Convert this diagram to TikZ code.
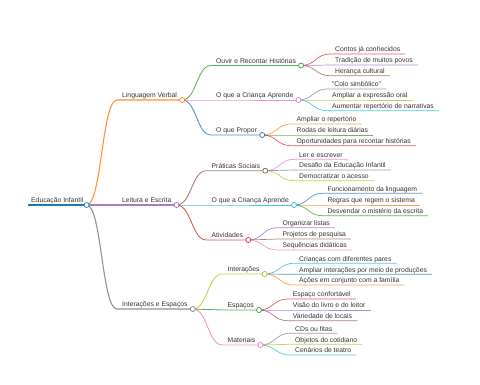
\documentclass[tikz,border=0pt]{standalone}
\usepackage{fontspec}
\setmainfont{Liberation Sans}
\usepackage{xcolor}
\usetikzlibrary{calc}
\definecolor{cBlue}{HTML}{1F77B4}
\definecolor{cOrange}{HTML}{FF7F0E}
\definecolor{cGreen}{HTML}{2CA02C}
\definecolor{cRed}{HTML}{D62728}
\definecolor{cPurple}{HTML}{9467BD}
\definecolor{cBrown}{HTML}{8C564B}
\definecolor{cPink}{HTML}{E377C2}
\definecolor{cGrey}{HTML}{7F7F7F}
\definecolor{cOlive}{HTML}{BCBD22}
\definecolor{cCyan}{HTML}{17BECF}
\definecolor{ink}{HTML}{333333}

\begin{document}
\begin{tikzpicture}[x=1pt, y=-1pt,
    lbl/.style={anchor=south west, inner xsep=5pt, inner ysep=0.6pt, text height=5pt, text depth=1.5pt,
        text=ink, font=\fontsize{6.8}{8}\selectfont},
    knob/.style={circle, draw=#1, fill=white, line width=0.7pt, inner sep=0pt, minimum size=5pt},
    link/.style={to path={let \p1=(\tikztostart), \p2=(\tikztotarget) in
        .. controls ({(\x1+\x2)/2},\y1) and ({(\x1+\x2)/2},\y2) .. (\tikztotarget)}},
    d1/.style={line width=1.1pt, opacity=0.85}, d2/.style={line width=0.85pt, opacity=0.8},
    d3/.style={line width=0.7pt, opacity=0.75}]
                \useasboundingbox (0,0) rectangle (480,384);
                \node[lbl, inner xsep=3pt] (root) at (28,205) {Educação Infantil};
                \node[lbl] (lv) at (117,100) {Linguagem Verbal};
                \node[lbl] (le) at (117,205) {Leitura e Escrita};
                \node[lbl] (ie) at (117,309) {Interações e Espaços};
                \node[lbl] (ouvir) at (211,65.5) {Ouvir e Recontar Histórias};
                \node[lbl] (aprende) at (211,100) {O que a Criança Aprende};
                \node[lbl] (propor) at (211,135) {O que Propor};
                \node[lbl] (praticas) at (206.5,170.7) {Práticas Sociais};
                \node[lbl] (aprendeb) at (206.5,205) {O que a Criança Aprende};
                \node[lbl] (ativ) at (206.5,240) {Atividades};
                \node[lbl] (inter) at (222.5,274) {Interações};
                \node[lbl] (espacos) at (222.5,310) {Espaços};
                \node[lbl] (mater) at (222.5,345) {Materiais};
                \node[lbl] (contos) at (330,54) {Contos já conhecidos};
                \node[lbl] (tradicao) at (330,65) {Tradição de muitos povos};
                \node[lbl] (heranca) at (330,75.7) {Herança cultural};
                \node[lbl] (colo) at (327,89) {"Colo simbólico"};
                \node[lbl] (oral) at (327,100) {Ampliar a expressão oral};
                \node[lbl] (narrat) at (327,110.7) {Aumentar repertório de narrativas};
                \node[lbl] (repert) at (291.5,124) {Ampliar o repertório};
                \node[lbl] (rodas) at (291.5,135) {Rodas de leitura diárias};
                \node[lbl] (oport) at (291.5,145.7) {Oportunidades para recontar histórias};
                \node[lbl] (ler) at (294,159.3) {Ler e escrever};
                \node[lbl] (desafio) at (294,170) {Desafio da Educação Infantil};
                \node[lbl] (democ) at (294,180.7) {Democratizar o acesso};
                \node[lbl] (funcion) at (322.3,193.3) {Funcionamento da linguagem};
                \node[lbl] (regras) at (322.3,205) {Regras que regem o sistema};
                \node[lbl] (misterio) at (322.3,215.7) {Desvendar o mistério da escrita};
                \node[lbl] (listas) at (277.3,227.7) {Organizar listas};
                \node[lbl] (pesquisa) at (277.3,239) {Projetos de pesquisa};
                \node[lbl] (sequen) at (277.3,250) {Sequências didáticas};
                \node[lbl] (pares) at (294,263.3) {Crianças com diferentes pares};
                \node[lbl] (producoes) at (294,274.3) {Ampliar interações por meio de produções};
                \node[lbl] (familia) at (294,285) {Ações em conjunto com a família};
                \node[lbl] (conforto) at (287.7,299) {Espaço confortável};
                \node[lbl] (visao) at (287.7,310) {Visão do livro e do leitor};
                \node[lbl] (locais) at (287.7,320.7) {Variedade de locais};
                \node[lbl] (cds) at (290,333.3) {CDs ou fitas};
                \node[lbl] (objetos) at (290,344.3) {Objetos do cotidiano};
                \node[lbl] (cenarios) at (290,355) {Cenários de teatro};
                \draw[cBlue, line width=1.5pt] (root.south west) -- (root.south east);
                \draw[cOrange, d1] (root.south east) to[link] (lv.south west) -- (lv.south east);
                \draw[cPurple, d1] (root.south east) to[link] (le.south west) -- (le.south east);
                \draw[cGrey, d1] (root.south east) to[link] (ie.south west) -- (ie.south east);
                \draw[cGreen, d2] (lv.south east) to[link] (ouvir.south west) -- (ouvir.south east);
                \draw[cPink, d2] (lv.south east) to[link] (aprende.south west) -- (aprende.south east);
                \draw[cBlue, d2] (lv.south east) to[link] (propor.south west) -- (propor.south east);
                \draw[cBrown, d2] (le.south east) to[link] (praticas.south west) -- (praticas.south east);
                \draw[cCyan, d2] (le.south east) to[link] (aprendeb.south west) -- (aprendeb.south east);
                \draw[cRed, d2] (le.south east) to[link] (ativ.south west) -- (ativ.south east);
                \draw[cOlive, d2] (ie.south east) to[link] (inter.south west) -- (inter.south east);
                \draw[cGreen, d2] (ie.south east) to[link] (espacos.south west) -- (espacos.south east);
                \draw[cPink, d2] (ie.south east) to[link] (mater.south west) -- (mater.south east);
                \draw[cRed, d3] (ouvir.south east) to[link] (contos.south west) -- (contos.south east);
                \draw[cPurple, d3] (ouvir.south east) to[link] (tradicao.south west) -- (tradicao.south east);
                \draw[cBrown, d3] (ouvir.south east) to[link] (heranca.south west) -- (heranca.south east);
                \draw[cGrey, d3] (aprende.south east) to[link] (colo.south west) -- (colo.south east);
                \draw[cOlive, d3] (aprende.south east) to[link] (oral.south west) -- (oral.south east);
                \draw[cCyan, d3] (aprende.south east) to[link] (narrat.south west) -- (narrat.south east);
                \draw[cOrange, d3] (propor.south east) to[link] (repert.south west) -- (repert.south east);
                \draw[cGreen, d3] (propor.south east) to[link] (rodas.south west) -- (rodas.south east);
                \draw[cRed, d3] (propor.south east) to[link] (oport.south west) -- (oport.south east);
                \draw[cPink, d3] (praticas.south east) to[link] (ler.south west) -- (ler.south east);
                \draw[cGrey, d3] (praticas.south east) to[link] (desafio.south west) -- (desafio.south east);
                \draw[cOlive, d3] (praticas.south east) to[link] (democ.south west) -- (democ.south east);
                \draw[cBlue, d3] (aprendeb.south east) to[link] (funcion.south west) -- (funcion.south east);
                \draw[cOrange, d3] (aprendeb.south east) to[link] (regras.south west) -- (regras.south east);
                \draw[cGreen, d3] (aprendeb.south east) to[link] (misterio.south west) -- (misterio.south east);
                \draw[cPurple, d3] (ativ.south east) to[link] (listas.south west) -- (listas.south east);
                \draw[cBrown, d3] (ativ.south east) to[link] (pesquisa.south west) -- (pesquisa.south east);
                \draw[cPink, d3] (ativ.south east) to[link] (sequen.south west) -- (sequen.south east);
                \draw[cCyan, d3] (inter.south east) to[link] (pares.south west) -- (pares.south east);
                \draw[cBlue, d3] (inter.south east) to[link] (producoes.south west) -- (producoes.south east);
                \draw[cOrange, d3] (inter.south east) to[link] (familia.south west) -- (familia.south east);
                \draw[cRed, d3] (espacos.south east) to[link] (conforto.south west) -- (conforto.south east);
                \draw[cPurple, d3] (espacos.south east) to[link] (visao.south west) -- (visao.south east);
                \draw[cBrown, d3] (espacos.south east) to[link] (locais.south west) -- (locais.south east);
                \draw[cGrey, d3] (mater.south east) to[link] (cds.south west) -- (cds.south east);
                \draw[cOlive, d3] (mater.south east) to[link] (objetos.south west) -- (objetos.south east);
                \draw[cCyan, d3] (mater.south east) to[link] (cenarios.south west) -- (cenarios.south east);
                \node[knob=cBlue] (rootk) at (root.south east) {};
                \node[knob=cOrange] (lvk) at (lv.south east) {};
                \node[knob=cPurple] (lek) at (le.south east) {};
                \node[knob=cGrey] (iek) at (ie.south east) {};
                \node[knob=cGreen] (ouvirk) at (ouvir.south east) {};
                \node[knob=cPink] (aprendek) at (aprende.south east) {};
                \node[knob=cBlue] (propork) at (propor.south east) {};
                \node[knob=cBrown] (praticask) at (praticas.south east) {};
                \node[knob=cCyan] (aprendebk) at (aprendeb.south east) {};
                \node[knob=cRed] (ativk) at (ativ.south east) {};
                \node[knob=cOlive] (interk) at (inter.south east) {};
                \node[knob=cGreen] (espacosk) at (espacos.south east) {};
                \node[knob=cPink] (materk) at (mater.south east) {};
            \end{tikzpicture}
\end{document}
